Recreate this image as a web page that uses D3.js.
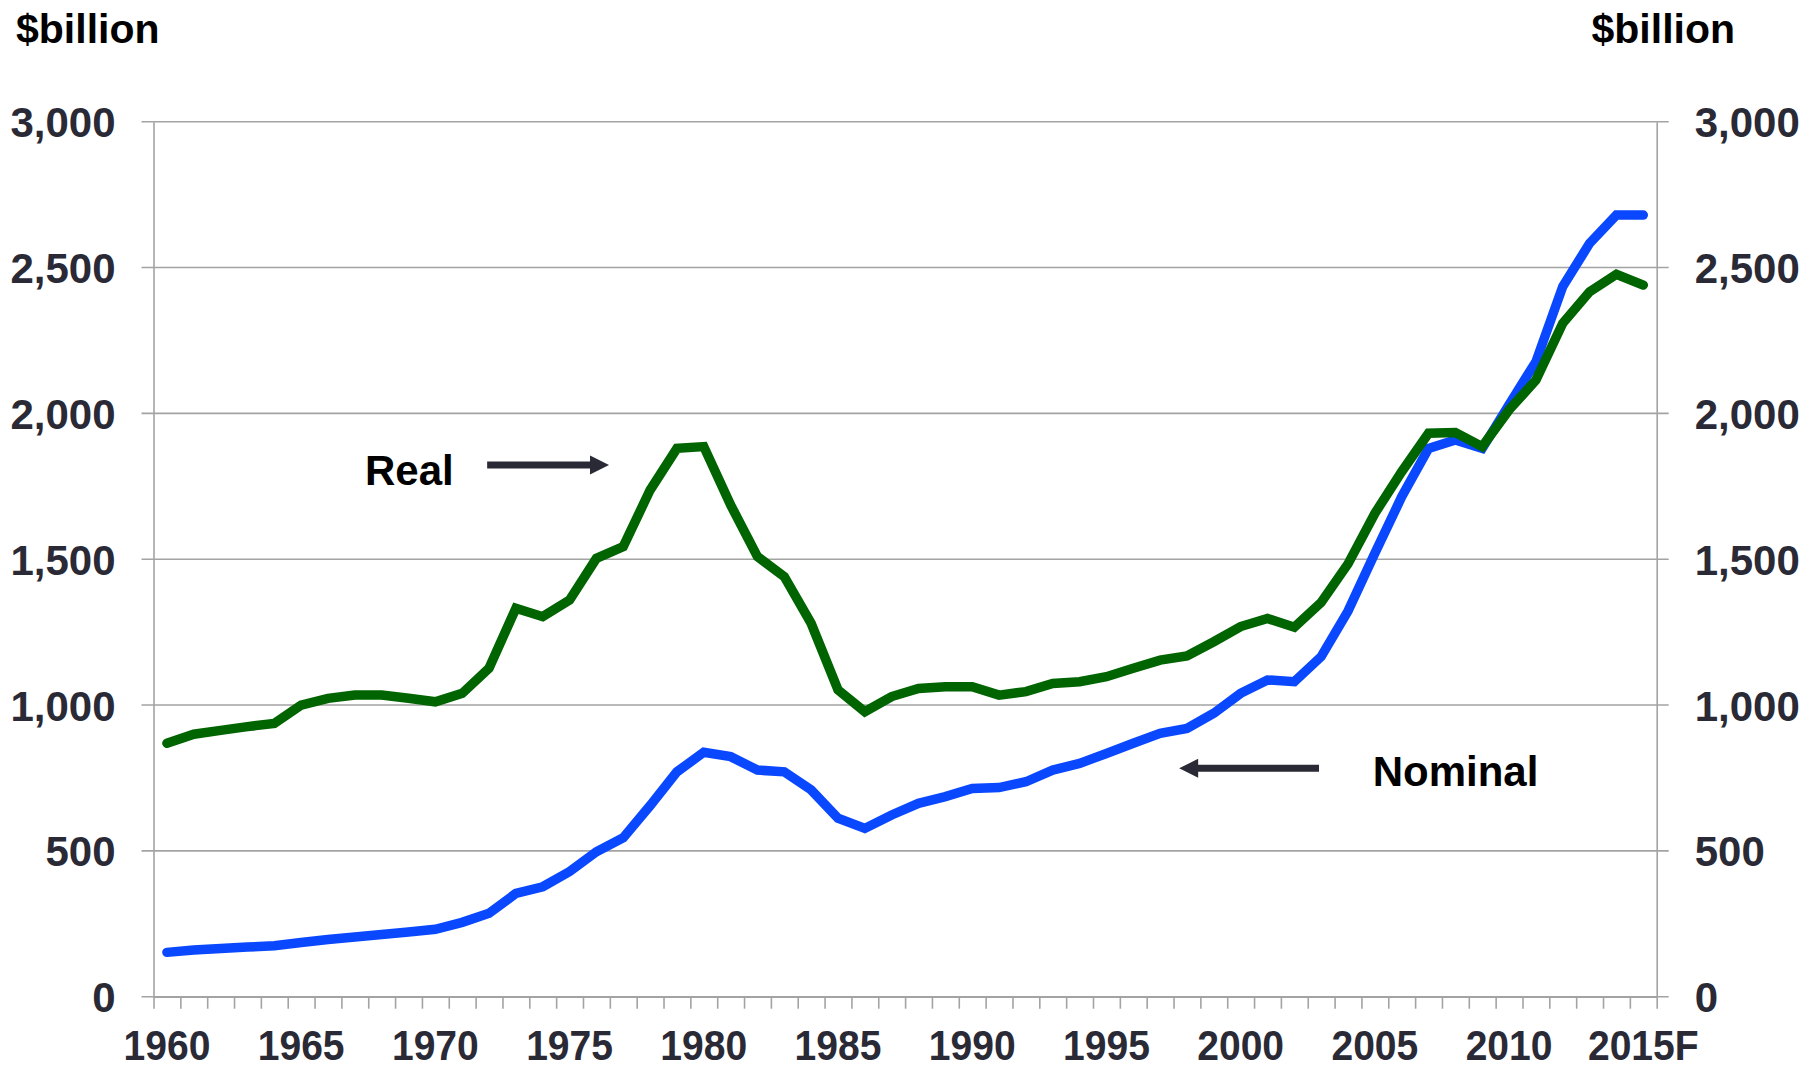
<!DOCTYPE html>
<html>
<head>
<meta charset="utf-8">
<script src="https://cdn.jsdelivr.net/npm/d3@7"></script>
<style>
  body { margin: 0; background: #fff; }
  text { font-family: "Liberation Sans", Arial, sans-serif; font-weight: bold; }
</style>
</head>
<body>
<svg id="chart" width="1819" height="1069"></svg>
<script>
// years on the category axis, 2015 is a forecast
var years = d3.range(1960, 2016);
var yearLabels = [1960, 1965, 1970, 1975, 1980, 1985, 1990, 1995, 2000, 2005, 2010, 2015];

// $billion
var nominal = [152, 160, 165, 170, 175, 186, 196, 205, 213, 222,
               231, 255, 286, 354, 377, 429, 497, 545, 655, 771,
               838, 823, 777, 771, 709, 612, 577, 623, 663, 686,
               714, 717, 737, 777, 800, 834, 869, 903, 920, 972,
               1040, 1086, 1080, 1166, 1322, 1520, 1714, 1880, 1909, 1880,
               2030, 2177, 2435, 2583, 2680, 2680];

var real = [869, 900, 913, 926, 937, 1000, 1023, 1034, 1034, 1023,
            1011, 1040, 1126, 1332, 1303, 1360, 1503, 1543, 1737, 1880,
            1886, 1686, 1509, 1440, 1280, 1052, 977, 1029, 1057, 1063,
            1063, 1034, 1046, 1074, 1080, 1097, 1126, 1154, 1168, 1217,
            1269, 1297, 1267, 1352, 1484, 1657, 1800, 1932, 1934, 1886,
            2012, 2114, 2309, 2417, 2477, 2440];

var yTicks = [0, 500, 1000, 1500, 2000, 2500, 3000];

var svg = d3.select("#chart");
var plotLeft = 153.5, plotRight = 1656.7, plotTop = 121.7, plotBottom = 996.7;
var ink = "#2a2a36", gridCol = "#a3a3a3";

var x = d3.scaleBand().domain(years).range([plotLeft, plotRight]).padding(0);
// index scale for the category boundaries and the annotations
var xi = d3.scaleLinear().domain([0, years.length]).range([plotLeft, plotRight]);
var y = d3.scaleLinear().domain([0, 3000]).range([plotBottom, plotTop]);

// gridlines, sticking out a bit past both axes
svg.append("g")
  .selectAll("line")
  .data(yTicks)
  .join("line")
    .attr("x1", plotLeft - 12)
    .attr("x2", plotRight + 12)
    .attr("y1", function(d) { return y(d); })
    .attr("y2", function(d) { return y(d); })
    .attr("stroke", gridCol)
    .attr("stroke-width", 1.6);

function styleAxis(g) {
  g.select(".domain").attr("stroke", gridCol).attr("stroke-width", 1.6);
  g.selectAll(".tick line").attr("stroke", gridCol).attr("stroke-width", 1.6);
  g.selectAll("text").attr("fill", ink).attr("font-size", 42);
}

var fmt = d3.format(",");
svg.append("g")
    .attr("transform", "translate(" + plotLeft + ",0)")
    .call(d3.axisLeft(y).tickValues(yTicks).tickFormat(fmt).tickSize(0).tickSizeOuter(0).tickPadding(38))
    .call(styleAxis)
    .selectAll("text").attr("dy", "0.36em");

svg.append("g")
    .attr("transform", "translate(" + plotRight + ",0)")
    .call(d3.axisRight(y).tickValues(yTicks).tickFormat(fmt).tickSize(0).tickSizeOuter(0).tickPadding(38))
    .call(styleAxis)
    .selectAll("text").attr("dy", "0.36em");

// small ticks between every year
svg.append("g")
    .attr("transform", "translate(0," + plotBottom + ")")
    .call(d3.axisBottom(xi).tickValues(d3.range(years.length + 1)).tickFormat("").tickSize(12).tickSizeOuter(0))
    .call(styleAxis);

// year labels under the category centres
var xLab = svg.append("g")
    .attr("transform", "translate(0," + plotBottom + ")")
    .call(d3.axisBottom(x).tickValues(yearLabels)
      .tickFormat(function(d) { return d === 2015 ? "2015F" : d; })
      .tickSize(0))
    .call(styleAxis);
xLab.select(".domain").remove();
xLab.selectAll("text")
    .attr("font-size", 42)
    .attr("y", 63)
    .attr("dy", 0)
    .attr("transform", "scale(0.93,1)");

var line = d3.line()
    .x(function(d, i) { return x(years[i]) + x.bandwidth() / 2; })
    .y(function(d) { return y(d); });

svg.append("path")
    .datum(nominal)
    .attr("fill", "none")
    .attr("stroke", "#0a48ff")
    .attr("stroke-width", 9.5)
    .attr("stroke-linejoin", "miter")
    .attr("stroke-linecap", "round")
    .attr("d", line);

svg.append("path")
    .datum(real)
    .attr("fill", "none")
    .attr("stroke", "#006400")
    .attr("stroke-width", 9.5)
    .attr("stroke-linejoin", "miter")
    .attr("stroke-linecap", "round")
    .attr("d", line);

// axis titles
svg.append("text").attr("x", 16).attr("y", 43).attr("font-size", 41).attr("fill", "#000").text("$billion");
svg.append("text").attr("x", 1735).attr("y", 43).attr("font-size", 41).attr("fill", "#000")
    .attr("text-anchor", "end").text("$billion");

// annotations, in index / value units
var labels = [
  {text: "Real", at: 7.88, value: 1754, from: 12.43, to: 16.97, arrowValue: 1823},
  {text: "Nominal", at: 45.42, value: 722, from: 43.42, to: 38.21, arrowValue: 783}
];

labels.forEach(function(a) {
  svg.append("text")
      .attr("x", xi(a.at))
      .attr("y", y(a.value))
      .attr("font-size", 42)
      .attr("fill", "#000")
      .text(a.text);

  var x0 = xi(a.from), x1 = xi(a.to), ay = y(a.arrowValue);
  var dir = x1 > x0 ? 1 : -1;
  var headLen = 19, headHalf = 9.5, shaft = 3.5;
  var xb = x1 - dir * headLen;
  svg.append("path")
      .attr("fill", ink)
      .attr("d", "M" + x0 + "," + (ay - shaft) +
                 "L" + xb + "," + (ay - shaft) +
                 "L" + xb + "," + (ay - headHalf) +
                 "L" + x1 + "," + ay +
                 "L" + xb + "," + (ay + headHalf) +
                 "L" + xb + "," + (ay + shaft) +
                 "L" + x0 + "," + (ay + shaft) + "Z");
});
</script>
</body>
</html>
